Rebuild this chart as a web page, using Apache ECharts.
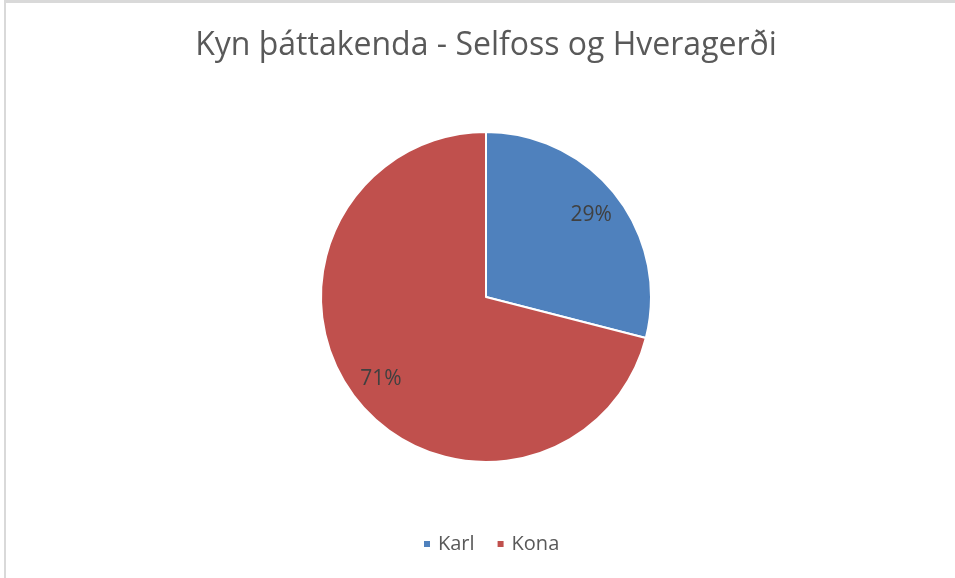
<!DOCTYPE html>
<html>
<head>
<meta charset="utf-8">
<script src="https://cdn.jsdelivr.net/npm/echarts@6/dist/echarts.min.js"></script>
<style>
  html, body { margin: 0; padding: 0; background: #fff; overflow: hidden; }
  #chart {
    width: 960px; height: 575px;
    border-top: 3px solid #d9d9d9;
    border-left: 2px solid #d9d9d9;
    margin-left: 4px;
  }
</style>
</head>
<body>
<div id="chart"></div>
<script>
// data
const categories = ['Karl', 'Kona']
const shares = [29, 71]
const colors = ['#4F81BD', '#C0504D']

const pieRadius = 165
const labelRadius = 130 // Excel puts the % labels further out than echarts' 'inside'

// push each label from r/2 out to labelRadius along the slice's mid angle
const total = shares.reduce((a, b) => a + b, 0)
let acc = 0
const labelOffsets = shares.map(v => {
  const mid = (acc + v / 2) / total * 2 * Math.PI
  acc += v
  const d = labelRadius - pieRadius / 2
  return [Math.sin(mid) * d, -Math.cos(mid) * d]
})

const chart = echarts.init(document.getElementById('chart'))

const option = {
  animation: false,
  title: {
    text: 'Kyn þáttakenda - Selfoss og Hveragerði',
    left: 'center',
    top: 22,
    textStyle: {
      fontFamily: 'Open Sans',
      fontSize: 32,
      fontWeight: 'normal',
      color: '#595959'
    }
  },
  legend: {
    bottom: 19,
    left: 411,
    icon: 'rect',
    itemWidth: 8,
    itemHeight: 8,
    itemGap: 21,
    textStyle: {
      fontFamily: 'Open Sans',
      fontSize: 20,
      color: '#595959',
      padding: [0, 0, 0, 2]
    },
    data: categories
  },
  series: [
    {
      type: 'pie',
      center: [480, 294],
      radius: pieRadius,
      startAngle: 90,
      clockwise: true,
      itemStyle: {
        borderColor: '#fff',
        borderWidth: 2
      },
      label: {
        show: true,
        position: 'inside',
        formatter: '{d}%',
        fontFamily: 'Open Sans',
        fontSize: 21,
        color: '#404040'
      },
      labelLine: { show: false },
      data: categories.map((name, i) => ({
        name,
        value: shares[i],
        itemStyle: { color: colors[i] },
        label: { offset: labelOffsets[i] }
      }))
    }
  ]
}

chart.setOption(option)
</script>
</body>
</html>
